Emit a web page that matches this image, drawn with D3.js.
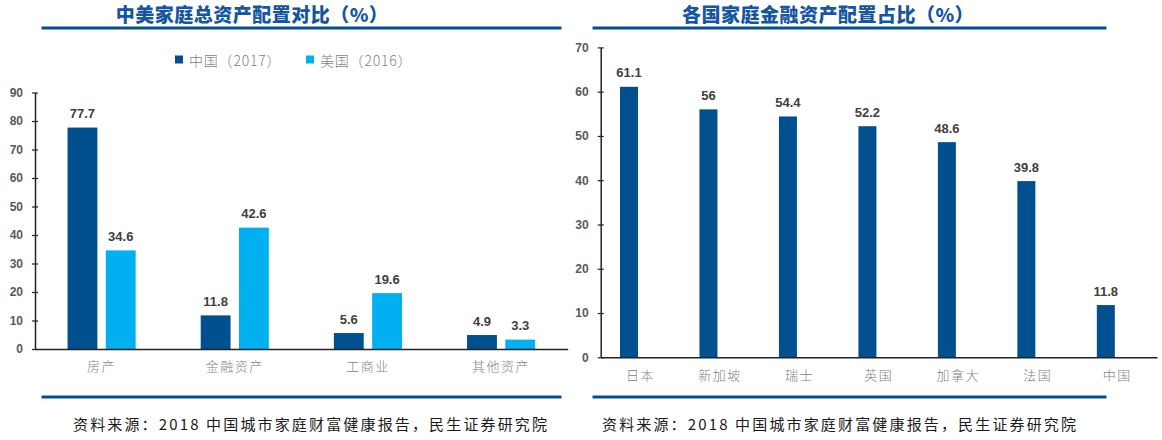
<!DOCTYPE html>
<html>
<head>
<meta charset="utf-8">
<script src="https://cdn.jsdelivr.net/npm/d3@7/dist/d3.min.js"></script>
<style>
  html, body { margin: 0; padding: 0; background: #fff; }
  svg { display: block; }
</style>
</head>
<body>
<svg id="chart" width="1162" height="440"></svg>
<script>
// ---------- data ----------
const leftTitle = "中美家庭总资产配置对比（%）";
const rightTitle = "各国家庭金融资产配置占比（%）";
const sourceText = "资料来源：2018 中国城市家庭财富健康报告，民生证券研究院";

const assetCategories = ["房产", "金融资产", "工商业", "其他资产"];
const seriesNames = ["中国（2017）", "美国（2016）"];
const chinaValues = [77.7, 11.8, 5.6, 4.9];
const usValues = [34.6, 42.6, 19.6, 3.3];
const leftTicks = [0, 10, 20, 30, 40, 50, 60, 70, 80, 90];

const countries = ["日本", "新加坡", "瑞士", "英国", "加拿大", "法国", "中国"];
const financialShare = [61.1, 56, 54.4, 52.2, 48.6, 39.8, 11.8];
const rightTicks = [0, 10, 20, 30, 40, 50, 60, 70];

// ---------- styles ----------
const DARK = "#00508F";
const LIGHT = "#00B0F0";
const LINE_BLUE = "#00508F";
const TITLE_BLUE = "#1556A3";
const CJK = "'Noto Sans CJK SC', 'Noto Sans', sans-serif";
const NUM = "'Liberation Sans', Arial, sans-serif";

const svg = d3.select("#chart");

function header(title, cx, x0, x1) {
  svg.append("text").attr("x", cx).attr("y", 13).attr("text-anchor", "middle")
    .attr("dominant-baseline", "central")
    .style("font-family", CJK).style("font-weight", 900).style("font-size", "19px")
    .style("letter-spacing", "0.5px").attr("fill", TITLE_BLUE).text(title);
  svg.append("rect").attr("x", x0).attr("y", 26.5).attr("width", x1 - x0).attr("height", 3)
    .attr("fill", LINE_BLUE);
}
function footer(x0, x1, tx) {
  svg.append("rect").attr("x", x0).attr("y", 395.5).attr("width", x1 - x0).attr("height", 3)
    .attr("fill", LINE_BLUE);
  svg.append("text").attr("x", tx).attr("y", 423.5).attr("dominant-baseline", "central")
    .attr("textLength", 474).attr("lengthAdjust", "spacing")
    .style("font-family", CJK).style("font-size", "15px").attr("fill", "#1a1a1a")
    .text(sourceText);
}
function styleYAxis(g) {
  g.select(".domain").attr("stroke", "#222").attr("stroke-width", 1.5);
  g.selectAll(".tick line").attr("x1", -3).attr("stroke", "#222").attr("stroke-width", 1.2);
  g.selectAll(".tick text").style("font-family", NUM).style("font-weight", 700)
    .style("font-size", "12px").attr("fill", "#595959");
}
function styleXAxis(g) {
  g.select(".domain").attr("stroke", "#222").attr("stroke-width", 1.5);
  g.selectAll(".tick line").remove();
  g.selectAll(".tick text").style("font-family", CJK).style("font-weight", 300)
    .style("font-size", "13px").style("letter-spacing", "1.5px").attr("fill", "#7f7f7f");
}

// ---------- left chart ----------
header(leftTitle, 252, 41.5, 561.5);
footer(41.5, 561.5, 73);

const xL = d3.scaleBand().domain(assetCategories).range([35, 567.7]);
const xLi = d3.scaleBand().domain(seriesNames).range([0, xL.bandwidth()])
  .paddingInner(0.22).paddingOuter(0.85);
const yL = d3.scaleLinear().domain([0, 90]).range([349, 92.5]);

// legend
const legend = svg.append("g");
const legendX = [175, 306];
seriesNames.forEach((s, i) => {
  legend.append("rect").attr("x", legendX[i]).attr("y", 55.5).attr("width", 8).attr("height", 8)
    .attr("fill", i === 0 ? DARK : LIGHT);
  legend.append("text").attr("x", legendX[i] + 14).attr("y", 59.5).attr("dominant-baseline", "central")
    .style("font-family", CJK).style("font-weight", 300).style("font-size", "14px")
    .style("letter-spacing", "0.8px").attr("fill", "#7f7f7f").text(s);
});

const leftRows = assetCategories.map((c, i) => ({ c, vals: [chinaValues[i], usValues[i]] }));
const groups = svg.append("g").selectAll("g").data(leftRows).join("g")
  .attr("transform", d => `translate(${xL(d.c)},0)`);
groups.selectAll("rect").data(d => d.vals.map((v, i) => ({ s: seriesNames[i], v, i })))
  .join("rect")
  .attr("x", d => xLi(d.s)).attr("width", xLi.bandwidth())
  .attr("y", d => yL(d.v)).attr("height", d => yL(0) - yL(d.v))
  .attr("fill", d => d.i === 0 ? DARK : LIGHT);
groups.selectAll("text").data(d => d.vals.map((v, i) => ({ s: seriesNames[i], v, i })))
  .join("text")
  .attr("x", d => xLi(d.s) + xLi.bandwidth() / 2).attr("y", d => yL(d.v) - 14)
  .attr("text-anchor", "middle").attr("dominant-baseline", "central")
  .style("font-family", NUM).style("font-weight", 700).style("font-size", "13px")
  .attr("fill", "#404040").text(d => d.v);

svg.append("g").attr("transform", "translate(35,0)")
  .call(d3.axisLeft(yL).tickValues(leftTicks).tickSizeInner(-3).tickSizeOuter(0).tickPadding(12))
  .call(styleYAxis);
svg.append("g").attr("transform", "translate(0,349)")
  .call(d3.axisBottom(xL).tickSize(0).tickPadding(13))
  .call(styleXAxis);

// ---------- right chart ----------
header(rightTitle, 828, 592.5, 1106.5);
footer(592.5, 1106.5, 602);

const xR = d3.scaleBand().domain(countries).range([600.7, 1157]);
const xRi = d3.scaleBand().domain([0, 1]).range([0, xR.bandwidth()])
  .paddingInner(0.214).paddingOuter(0.843);
const yR = d3.scaleLinear().domain([0, 70]).range([357.3, 47.4]);

const rightRows = countries.map((c, i) => ({ c, v: financialShare[i] }));
svg.append("g").selectAll("rect").data(rightRows).join("rect")
  .attr("x", d => xR(d.c) + xRi(0)).attr("width", xRi.bandwidth())
  .attr("y", d => yR(d.v)).attr("height", d => yR(0) - yR(d.v))
  .attr("fill", DARK);
svg.append("g").selectAll("text").data(rightRows).join("text")
  .attr("x", d => xR(d.c) + xRi(0) + xRi.bandwidth() / 2).attr("y", d => yR(d.v) - 14)
  .attr("text-anchor", "middle").attr("dominant-baseline", "central")
  .style("font-family", NUM).style("font-weight", 700).style("font-size", "13px")
  .attr("fill", "#404040").text(d => d.v);

svg.append("g").attr("transform", "translate(600.7,0)")
  .call(d3.axisLeft(yR).tickValues(rightTicks).tickSizeInner(-3).tickSizeOuter(0).tickPadding(12))
  .call(styleYAxis);
svg.append("g").attr("transform", "translate(0,357.3)")
  .call(d3.axisBottom(xR).tickSize(0).tickPadding(13))
  .call(styleXAxis);
</script>
</body>
</html>
